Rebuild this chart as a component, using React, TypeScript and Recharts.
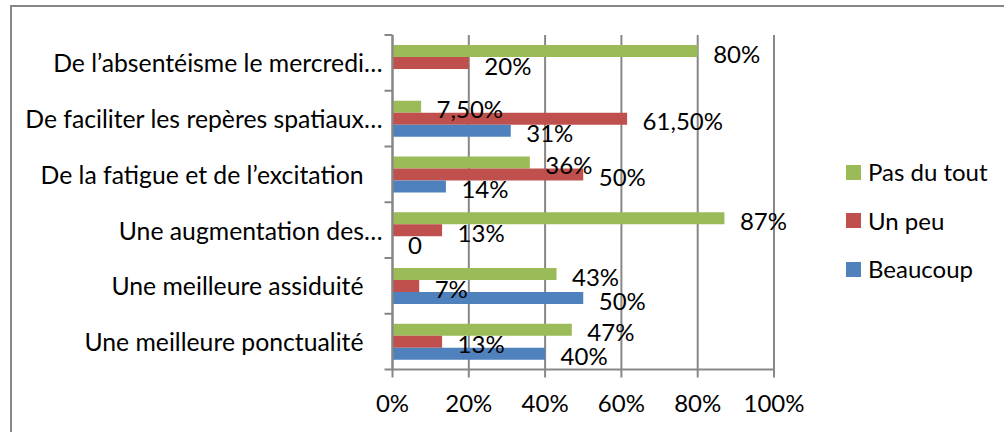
import React from 'react';
import { BarChart, Bar, XAxis, YAxis, CartesianGrid, Legend, LabelList } from 'recharts';

const categories = [
  'De l’absentéisme le mercredi…',
  'De faciliter les repères spatiaux…',
  'De la fatigue et de l’excitation   ',
  'Une augmentation des…',
  'Une meilleure assiduité   ',
  'Une meilleure ponctualité   ',
];
const pasDuTout: (number | null)[] = [80, 7.5, 36, 87, 43, 47];
const unPeu: (number | null)[] = [20, 61.5, 50, 13, 7, 13];
const beaucoup: (number | null)[] = [null, 31, 14, 0, 50, 40];
const xTicks = [0, 20, 40, 60, 80, 100];

const seriesKeys = ['pas', 'peu', 'beaucoup'];
const seriesNames: Record<string, string> = { pas: 'Pas du tout', peu: 'Un peu', beaucoup: 'Beaucoup' };
const colors: Record<string, string> = { pas: '#9BBB59', peu: '#C0504D', beaucoup: '#4F81BD' };

const data = categories.map((c, i) => ({
  cat: c,
  pas: pasDuTout[i],
  peu: unPeu[i],
  beaucoup: beaucoup[i],
}));

const FONT = 'Lato, "Noto Sans", sans-serif';
const FS = 24;
const CAT_FS = 24.75;
const GRAY = '#878787';

const fmt = (v: number) => {
  if (v === 0) return '0';
  if (Number.isInteger(v)) return `${v}%`;
  return `${v.toFixed(2).replace('.', ',')}%`;
};

const CategoryTick = (props: any) => {
  const { x, y, payload, index, visibleTicksCount, height } = props;
  const count = visibleTicksCount || categories.length;
  const band = (height || 334.5) / count;
  const axisX = x + 10;
  return (
    <g>
      <text
        x={x}
        y={y}
        textAnchor="end"
        dominantBaseline="central"
        fontFamily={FONT}
        fontSize={CAT_FS}
        fill="#000"
        style={{ whiteSpace: 'pre' }}
      >
        {payload.value}
      </text>
      {index === 0 && (
        <line x1={axisX - 8} x2={axisX} y1={y - band / 2} y2={y - band / 2} stroke={GRAY} strokeWidth={2} />
      )}
      <line x1={axisX - 8} x2={axisX} y1={y + band / 2} y2={y + band / 2} stroke={GRAY} strokeWidth={2} />
    </g>
  );
};

const renderLabel = (props: any) => {
  const { x, y, width, height, value } = props;
  if (value === null || value === undefined) return null;
  return (
    <text
      x={Number(x) + Number(width) + 15.5}
      y={Number(y) + Number(height) / 2 + 2}
      dominantBaseline="central"
      fontFamily={FONT}
      fontSize={FS}
      fill="#000"
    >
      {fmt(Number(value))}
    </text>
  );
};

const renderLegend = (props: any) => {
  const payload = [...(props.payload || [])].sort(
    (a: any, b: any) => seriesKeys.indexOf(a.dataKey) - seriesKeys.indexOf(b.dataKey)
  );
  return (
    <div style={{ fontFamily: FONT, fontSize: FS, color: '#000' }}>
      {payload.map((e: any) => (
        <div key={e.value} style={{ display: 'flex', alignItems: 'center', height: 48.5 }}>
          <span style={{ width: 15, height: 15, background: e.color, display: 'inline-block', marginRight: 7 }} />
          <span style={{ lineHeight: '24px' }}>{e.value}</span>
        </div>
      ))}
    </div>
  );
};

export default function App() {
  return (
    <div style={{ position: 'absolute', left: 0, top: 0, width: 1004, height: 432, overflow: 'hidden', background: '#fff' }}>
      <div
        style={{
          position: 'absolute',
          left: 10,
          top: 5,
          width: 1010,
          height: 450,
          border: `2px solid ${GRAY}`,
          boxSizing: 'border-box',
        }}
      />
      <div style={{ position: 'absolute', left: 0, top: 0 }}>
        <BarChart
          width={1004}
          height={432}
          data={data}
          layout="vertical"
          margin={{ top: 35, right: 70, bottom: 0, left: 0 }}
          barSize={12}
          barGap={0}
        >
          <CartesianGrid horizontal={false} vertical stroke={GRAY} strokeWidth={2} />
          <XAxis
            type="number"
            domain={[0, 100]}
            ticks={xTicks}
            tickFormatter={(v: number) => `${v}%`}
            height={62.5}
            axisLine={{ stroke: GRAY, strokeWidth: 2 }}
            tickLine={{ stroke: GRAY, strokeWidth: 2 }}
            tickSize={8}
            tickMargin={17}
            tick={{ fontFamily: FONT, fontSize: FS, fill: '#000' }}
            interval={0}
          />
          <YAxis
            type="category"
            dataKey="cat"
            width={392.5}
            axisLine={{ stroke: GRAY, strokeWidth: 2 }}
            tickLine={false}
            tickSize={0}
            tickMargin={10}
            tick={<CategoryTick />}
            interval={0}
          />
          <Legend
            layout="vertical"
            align="right"
            verticalAlign="middle"
            width={160}
            content={renderLegend}
            wrapperStyle={{ left: 846, top: 148, width: 160 }}
          />
          {seriesKeys.map((k) => (
            <Bar
              key={k}
              dataKey={k}
              name={seriesNames[k]}
              fill={colors[k]}
              minPointSize={0.01}
              isAnimationActive={false}
            >
              <LabelList dataKey={k} content={renderLabel} />
            </Bar>
          ))}
        </BarChart>
      </div>
    </div>
  );
}
